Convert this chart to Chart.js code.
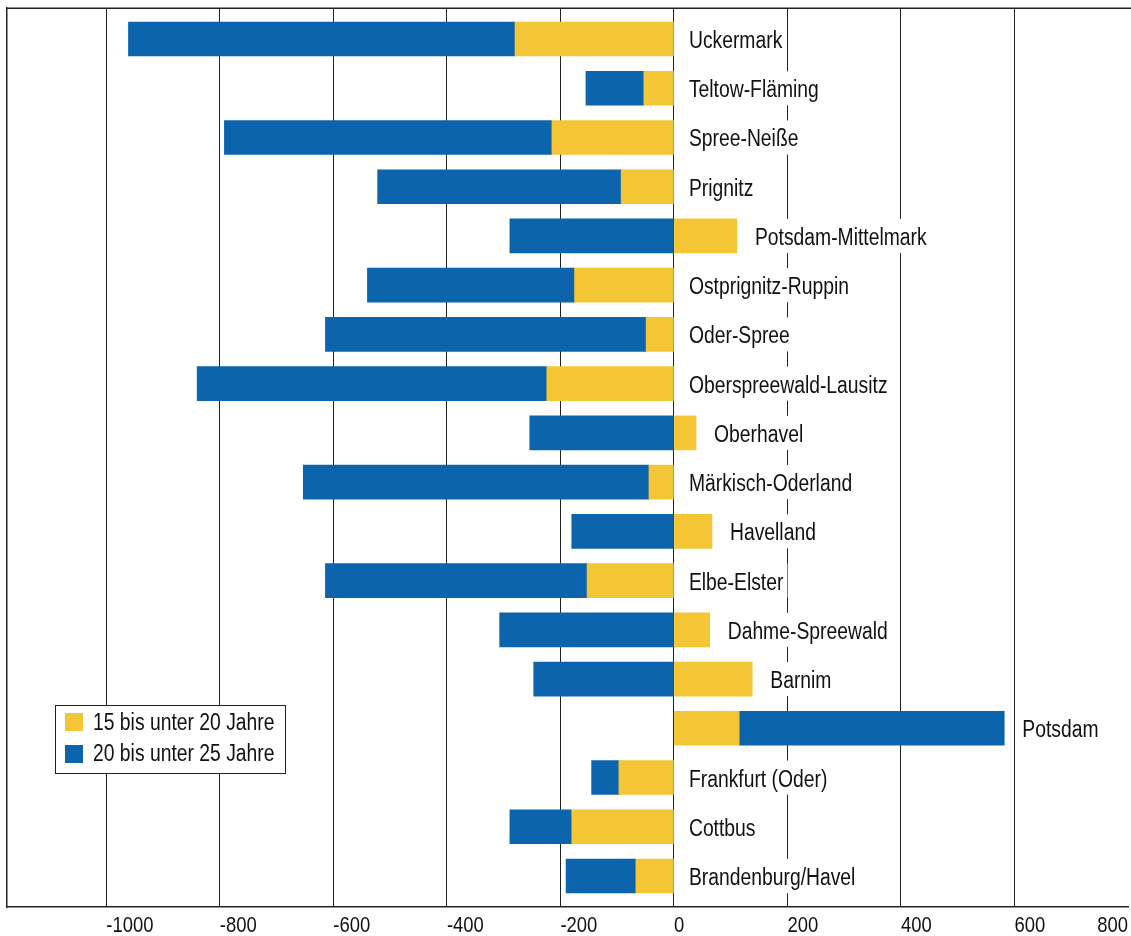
<!DOCTYPE html>
<html>
<head>
<meta charset="utf-8">
<title>Brandenburg</title>
<script src="https://cdn.jsdelivr.net/npm/chart.js"></script>
<style>
  html, body { margin: 0; padding: 0; background: #fff; }
</style>
</head>
<body>
<canvas id="myChart" width="1131" height="936"></canvas>
<script>
var kreise = ["Uckermark", "Teltow-Fläming", "Spree-Neiße", "Prignitz", "Potsdam-Mittelmark",
  "Ostprignitz-Ruppin", "Oder-Spree", "Oberspreewald-Lausitz", "Oberhavel", "Märkisch-Oderland",
  "Havelland", "Elbe-Elster", "Dahme-Spreewald", "Barnim", "Potsdam", "Frankfurt (Oder)",
  "Cottbus", "Brandenburg/Havel"];
var jahre15bis20 = [-280, -53, -215, -93, 111, -175, -49, -224, 39, -44, 67, -153, 63, 138, 115, -97, -180, -67];
var jahre20bis25 = [-681, -102, -577, -429, -289, -365, -565, -616, -254, -609, -180, -461, -307, -247, 467, -48, -109, -123];
var serien = ["15 bis unter 20 Jahre", "20 bis unter 25 Jahre"];
var farben = ["#f4c534", "#0b64ac"];
var xTicks = [-1000, -800, -600, -400, -200, 0, 200, 400, 600, 800];

var schrift = "Liberation Sans, Arial, sans-serif";
var schmal = 0.84; // Arial Narrow look

function schmalText(ctx, text, x, y, align) {
  ctx.save();
  ctx.translate(x, y);
  ctx.scale(schmal, 1);
  ctx.textAlign = align || "left";
  ctx.fillText(text, 0, 0);
  ctx.restore();
}

function punkte(werte) {
  return werte.map(function (v, i) { return { x: v, y: i }; });
}

var beschriftung = {
  id: "beschriftung",
  afterDatasetsDraw: function (chart) {
    var ctx = chart.ctx;
    var xs = chart.scales.x;
    var ys = chart.scales.y;
    var area = chart.chartArea;

    // Rahmen oben
    ctx.save();
    ctx.strokeStyle = "#222";
    ctx.lineWidth = 1.5;
    ctx.beginPath();
    ctx.moveTo(area.left, area.top + 0.25);
    ctx.lineTo(chart.width, area.top + 0.25);
    ctx.stroke();
    ctx.restore();

    // Kreisnamen rechts neben den Balken
    ctx.save();
    ctx.font = "23px " + schrift;
    for (var i = 0; i < kreise.length; i++) {
      var plus = Math.max(jahre15bis20[i], 0) + Math.max(jahre20bis25[i], 0);
      var x = xs.getPixelForValue(plus) + (plus > 0 ? 18 : 15);
      var y = ys.getPixelForValue(i);
      var w = ctx.measureText(kreise[i]).width * schmal;
      ctx.fillStyle = "#fff";
      ctx.fillRect(x - 4, y - 17, w + 8, 34);
      ctx.fillStyle = "#111";
      schmalText(ctx, kreise[i], x, y + 9);
    }
    ctx.restore();

    // Achsenbeschriftung
    ctx.save();
    ctx.font = "22px " + schrift;
    ctx.fillStyle = "#111";
    xTicks.forEach(function (v, k) {
      var px = xs.getPixelForValue(v);
      if (k === xTicks.length - 1) {
        schmalText(ctx, String(v), px, 932, "right");
      } else {
        schmalText(ctx, String(v), px, 932, "left");
      }
    });
    ctx.restore();

    // Legende
    ctx.save();
    ctx.fillStyle = "#fff";
    ctx.fillRect(55, 705, 230, 69);
    ctx.strokeStyle = "#222";
    ctx.lineWidth = 1;
    ctx.strokeRect(55.5, 705.5, 230, 68);
    ctx.font = "23px " + schrift;
    for (var s = 0; s < serien.length; s++) {
      ctx.fillStyle = farben[s];
      ctx.fillRect(65, 713 + s * 32, 18, 18);
      ctx.fillStyle = "#111";
      schmalText(ctx, serien[s], 93, 730 + s * 31);
    }
    ctx.restore();
  }
};

new Chart("myChart", {
  type: "bar",
  data: {
    datasets: [{
      label: serien[0],
      data: punkte(jahre15bis20),
      backgroundColor: farben[0],
      barThickness: 34
    }, {
      label: serien[1],
      data: punkte(jahre20bis25),
      backgroundColor: farben[1],
      barThickness: 34
    }]
  },
  options: {
    indexAxis: "y",
    responsive: false,
    animation: false,
    devicePixelRatio: 1,
    layout: { padding: { left: 7, top: 8, right: 3, bottom: 29 } },
    plugins: {
      legend: { display: false },
      tooltip: { enabled: false }
    },
    scales: {
      x: {
        type: "linear",
        stacked: true,
        min: -1175,
        max: 800,
        afterBuildTicks: function (scale) {
          scale.ticks = xTicks.map(function (v) { return { value: v }; });
        },
        ticks: { display: false },
        grid: {
          drawTicks: false,
          color: function (c) {
            return c.tick && c.tick.value === 800 ? "rgba(0,0,0,0)" : "#222";
          }
        },
        border: { color: "#222", width: 1.5 }
      },
      y: {
        type: "linear",
        stacked: true,
        reverse: true,
        offset: false,
        min: -0.63,
        max: 17.63,
        ticks: { display: false },
        grid: { display: false, drawTicks: false, offset: false },
        border: { color: "#222", width: 1.5 }
      }
    }
  },
  plugins: [beschriftung]
});
</script>
</body>
</html>
